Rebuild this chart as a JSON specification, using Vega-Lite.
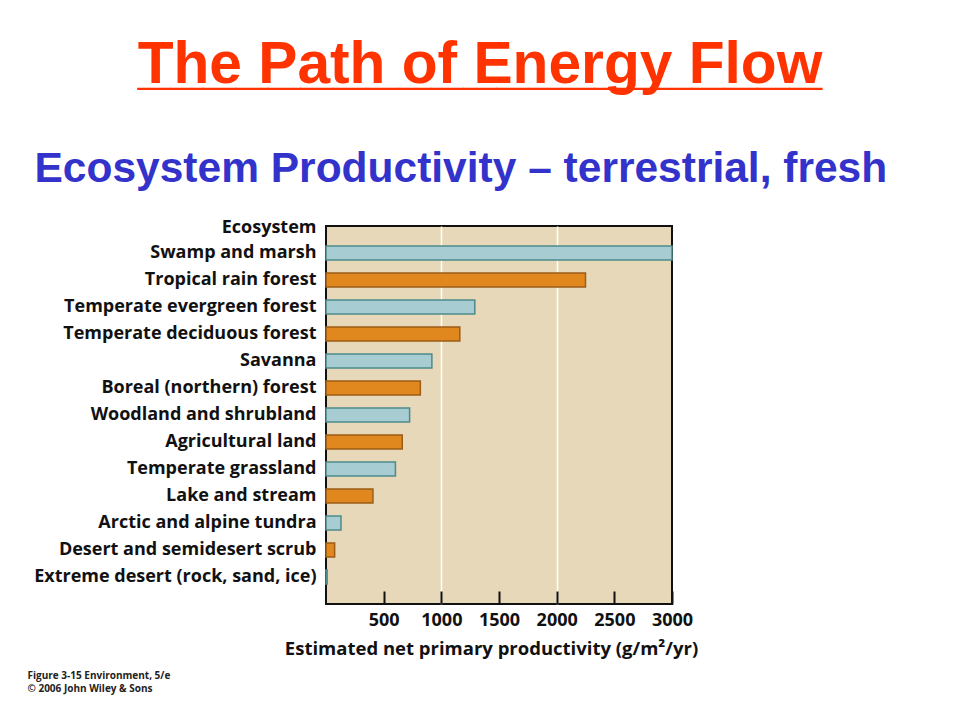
{
  "$schema": "https://vega.github.io/schema/vega-lite/v6.json",
  "autosize": "none",
  "width": 346,
  "height": 378,
  "padding": {"left": 326, "top": 226, "right": 288, "bottom": 116},
  "background": "white",
  "config": {
    "view": {"fill": "#e6d8b9", "stroke": "#111111", "strokeWidth": 2}
  },
  "title": {
    "text": "The Path of Energy Flow",
    "subtitle": "_____________________",
    "anchor": "middle",
    "dx": -19,
    "offset": 51,
    "font": "Liberation Sans",
    "fontSize": 58.7,
    "fontWeight": "bold",
    "color": "#ff3300",
    "subtitleFont": "Liberation Sans",
    "subtitleFontSize": 58.6,
    "subtitleFontWeight": "bold",
    "subtitleColor": "#ff3300",
    "subtitlePadding": -58
  },
  "data": {
    "values": [
      {"ecosystem": "Swamp and marsh", "npp": 3000, "series": 1},
      {"ecosystem": "Tropical rain forest", "npp": 2250, "series": 2},
      {"ecosystem": "Temperate evergreen forest", "npp": 1290, "series": 1},
      {"ecosystem": "Temperate deciduous forest", "npp": 1160, "series": 2},
      {"ecosystem": "Savanna", "npp": 918, "series": 1},
      {"ecosystem": "Boreal (northern) forest", "npp": 818, "series": 2},
      {"ecosystem": "Woodland and shrubland", "npp": 725, "series": 1},
      {"ecosystem": "Agricultural land", "npp": 661, "series": 2},
      {"ecosystem": "Temperate grassland", "npp": 602, "series": 1},
      {"ecosystem": "Lake and stream", "npp": 407, "series": 2},
      {"ecosystem": "Arctic and alpine tundra", "npp": 130, "series": 1},
      {"ecosystem": "Desert and semidesert scrub", "npp": 75, "series": 2},
      {"ecosystem": "Extreme desert (rock, sand, ice)", "npp": 10, "series": 1}
    ]
  },
  "resolve": {"axis": {"x": "independent", "y": "independent"}},
  "layer": [
    {
      "mark": {"type": "bar", "strokeWidth": 1.5},
      "encoding": {
        "y": {
          "field": "ecosystem",
          "type": "nominal",
          "sort": null,
          "scale": {"paddingInner": 0.48, "paddingOuter": 0.74},
          "axis": {
            "domain": false,
            "ticks": false,
            "labelFont": "Open Sans",
            "labelFontWeight": "bold",
            "labelFontSize": 18,
            "labelColor": "#111111",
            "labelPadding": 10,
            "labelLimit": 400,
            "title": "Ecosystem",
            "titleAngle": 0,
            "titleAlign": "right",
            "titleBaseline": "middle",
            "titleX": -10,
            "titleY": 1,
            "titleFont": "Open Sans",
            "titleFontWeight": "bold",
            "titleFontSize": 18,
            "titleColor": "#111111"
          }
        },
        "x": {
          "field": "npp",
          "type": "quantitative",
          "scale": {"domain": [0, 3000], "nice": false},
          "axis": {
            "values": [500, 1000, 1500, 2000, 2500, 3000],
            "format": "d",
            "labelOverlap": false,
            "labelFlush": false,
            "domain": false,
            "grid": false,
            "ticks": true,
            "zindex": 1,
            "tickColor": "#111111",
            "tickWidth": 2,
            "tickSize": -13,
            "labelPadding": 20,
            "labelFont": "Open Sans",
            "labelFontWeight": "bold",
            "labelFontSize": 18,
            "labelColor": "#111111",
            "title": "Estimated net primary productivity (g/m²/yr)",
            "titleFont": "Open Sans",
            "titleFontWeight": "bold",
            "titleFontSize": 18.5,
            "titleColor": "#111111",
            "titleX": 165,
            "titlePadding": 10
          }
        },
        "fill": {
          "field": "series",
          "type": "nominal",
          "scale": {"domain": [1, 2], "range": ["#a7ccd2", "#e0871d"]},
          "legend": null
        },
        "stroke": {
          "field": "series",
          "type": "nominal",
          "scale": {"domain": [1, 2], "range": ["#4d8a8c", "#9c5c16"]},
          "legend": null
        }
      }
    },
    {
      "mark": {"type": "bar", "opacity": 0},
      "encoding": {
        "y": {
          "field": "ecosystem",
          "type": "nominal",
          "sort": null,
          "axis": {
            "orient": "right",
            "domain": false,
            "ticks": false,
            "labels": false,
            "grid": false,
            "title": ["Figure 3-15  Environment, 5/e", "© 2006 John Wiley & Sons"],
            "titleAngle": 0,
            "titleAlign": "left",
            "titleBaseline": "top",
            "titleX": -645,
            "titleY": 444,
            "titleLineHeight": 13,
            "titleFont": "Open Sans",
            "titleFontWeight": "bold",
            "titleFontSize": 10,
            "titleColor": "#222222"
          }
        },
        "x": {
          "field": "npp",
          "type": "quantitative",
          "axis": {
            "orient": "top",
            "values": [1000, 2000],
            "domain": false,
            "ticks": false,
            "labels": false,
            "grid": true,
            "gridColor": "#ffffff",
            "gridWidth": 1.5,
            "gridOpacity": 1,
            "title": "Ecosystem Productivity – terrestrial, fresh",
            "titleAlign": "left",
            "titleBaseline": "alphabetic",
            "titleX": -292,
            "titleY": -45,
            "titleFont": "Liberation Sans",
            "titleFontWeight": "bold",
            "titleFontSize": 42.5,
            "titleColor": "#3333cc"
          }
        }
      }
    }
  ]
}
